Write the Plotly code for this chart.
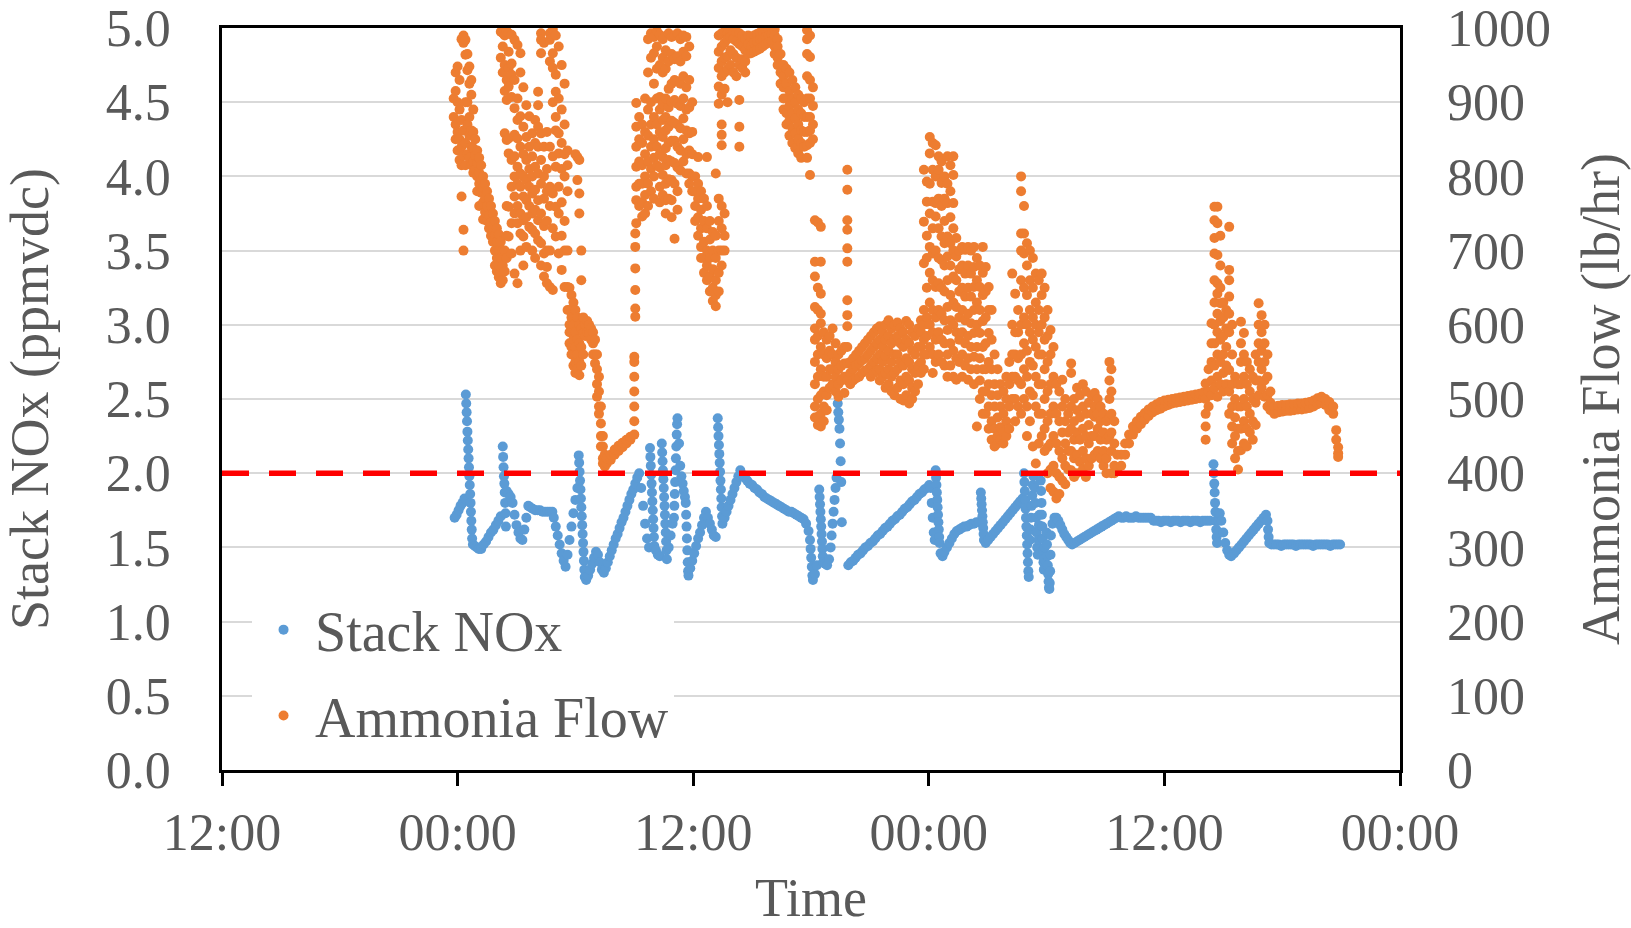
import pandas as pd
import plotly.graph_objects as go

# ---------------- data ----------------
BASE_TIME = pd.Timestamp("2021-06-01 12:00")   # left edge of the time axis (12:00)
AXIS_SPAN_HOURS = 60
x_tick_hours = [0, 12, 24, 36, 48, 60]
x_tick_labels = ["12:00", "00:00", "12:00", "00:00", "12:00", "00:00"]

nox_limit = 2.0   # ppmvdc permit limit (red dashed line)

# Stack NOx (ppmvdc): runs of readings (start hour after 12:00, sample step in hours, readings)
nox_runs = [
    (11.85, 0.1, [1.70, 1.72, 1.75, 1.78, 1.80, 1.83]),
    (12.42, 0.02, [2.53, 2.47, 2.41, 2.35, 2.28, 2.22, 2.16, 2.10, 2.04, 1.98, 1.92, 1.86, 1.80, 1.74, 1.68, 1.62, 1.56]),
    (12.78, 0.1, [1.52, 1.51, 1.50, 1.49]),
    (13.2, 0.125, [1.49, 1.52, 1.54, 1.57, 1.60, 1.62, 1.65, 1.68, 1.71]),
    (14.3, 0.02, [2.18, 2.11, 2.04, 1.98, 1.93, 1.87, 1.80, 1.73, 1.64]),
    (14.5, 0.1, [1.88, 1.86, 1.84, 1.80, 1.72, 1.65, 1.60, 1.56, 1.55]),
    (15.4, 0.1, [1.62, 1.70, 1.78]),
    (15.7, 0.125, [1.77, 1.76, 1.75, 1.75, 1.75, 1.74, 1.74, 1.74, 1.74, 1.74]),
    (16.9, 0.1, [1.70, 1.64, 1.58, 1.52, 1.46, 1.41, 1.37]),
    (17.6, 0.1, [1.45, 1.55, 1.64, 1.73, 1.82, 1.90]),
    (18.17, 0.022, [2.12, 2.07, 2.01, 1.95, 1.89, 1.83, 1.77, 1.71, 1.65, 1.59, 1.53, 1.47, 1.41, 1.35, 1.30]),
    (18.55, 0.1, [1.28, 1.31, 1.35, 1.39, 1.43, 1.47, 1.45, 1.40, 1.35, 1.33]),
    (19.55, 0.1, [1.36, 1.40, 1.44, 1.48, 1.52, 1.56, 1.59, 1.63, 1.67, 1.70, 1.74, 1.78, 1.82, 1.86, 1.89, 1.93, 1.97, 2.00]),
    (21.35, 0.1, [1.90, 1.78, 1.66, 1.56, 1.50]),
    (21.8, 0.02, [2.17, 2.11, 2.05, 1.99, 1.93, 1.87, 1.81, 1.75, 1.69, 1.63, 1.57, 1.51]),
    (22.1, 0.1, [1.48, 1.45, 1.44]),
    (22.4, 0.02, [2.20, 2.14, 2.08, 2.02, 1.96, 1.90, 1.84, 1.78, 1.72, 1.66, 1.60, 1.54, 1.48, 1.42]),
    (22.75, 0.1, [1.50, 1.58, 1.66]),
    (23.02, 0.02, [1.70, 1.78, 1.86, 1.94, 2.02, 2.10, 2.18, 2.26, 2.33, 2.37]),
    (23.28, 0.06, [2.20, 2.05, 1.98, 1.93, 1.88, 1.84]),
    (23.62, 0.02, [1.80, 1.72, 1.64, 1.56, 1.48, 1.40, 1.34, 1.31]),
    (23.85, 0.1, [1.36, 1.41, 1.46, 1.51, 1.56, 1.60, 1.65, 1.70, 1.74]),
    (24.75, 0.1, [1.70, 1.66, 1.62, 1.58, 1.57]),
    (25.25, 0.02, [2.37, 2.31, 2.25, 2.19, 2.13, 2.07, 2.01, 1.95, 1.89, 1.83, 1.77, 1.71, 1.66]),
    (25.6, 0.1, [1.70, 1.74, 1.78, 1.82, 1.86, 1.90, 1.94, 1.98, 2.02]),
    (26.5, 0.125, [1.99, 1.97, 1.95, 1.93, 1.92, 1.90, 1.89, 1.87, 1.86, 1.84, 1.83, 1.82, 1.81, 1.80,
                   1.79, 1.78, 1.77, 1.76, 1.75, 1.74, 1.74, 1.73, 1.72, 1.71, 1.70, 1.69, 1.66, 1.61]),
    (29.95, 0.03, [1.55, 1.49, 1.43, 1.37, 1.31, 1.28]),
    (30.2, 0.1, [1.32, 1.38]),
    (30.42, 0.02, [1.89, 1.84, 1.79, 1.74, 1.69, 1.64, 1.59, 1.54, 1.49, 1.44, 1.40]),
    (30.72, 0.1, [1.39, 1.38, 1.42]),
    (31.0, 0.05, [1.50, 1.58, 1.66, 1.74, 1.82, 1.90, 1.97]),
    (31.36, 0.03, [2.47, 2.41, 2.36, 2.30, 2.20, 2.08, 1.94, 1.67]),
    (31.9, 0.125, [1.38, 1.40, 1.41, 1.43, 1.45, 1.46, 1.48, 1.50, 1.51, 1.53, 1.54, 1.56, 1.58, 1.59, 1.61, 1.63, 1.64,
                   1.66, 1.68, 1.69, 1.71, 1.72, 1.74, 1.76, 1.77, 1.79, 1.81, 1.82, 1.84, 1.86, 1.87, 1.89, 1.90, 1.92]),
    (36.1, 0.05, [1.90, 1.80, 1.70, 1.60, 1.55]),
    (36.35, 0.02, [2.02, 1.97, 1.92, 1.87, 1.82, 1.77, 1.72, 1.67, 1.62, 1.57, 1.53]),
    (36.6, 0.1, [1.46, 1.44]),
    (36.8, 0.125, [1.47, 1.50, 1.53, 1.56, 1.59, 1.61, 1.62, 1.63, 1.64, 1.64, 1.65, 1.66, 1.66, 1.67, 1.67]),
    (38.65, 0.02, [1.87, 1.83, 1.79, 1.75, 1.71, 1.67, 1.63, 1.59, 1.55]),
    (38.9, 0.125, [1.53, 1.55, 1.57, 1.59, 1.61, 1.63, 1.65, 1.67, 1.69, 1.71, 1.73, 1.75, 1.77, 1.79, 1.81, 1.83]),
    (40.85, 0.02, [2.00, 1.94, 1.88, 1.82, 1.76, 1.70, 1.64, 1.58, 1.52, 1.46, 1.40, 1.34, 1.30]),
    (41.15, 0.03, [1.55, 1.62, 1.70, 1.78, 1.85, 1.92, 1.98]),
    (41.4, 0.03, [1.90, 1.80, 1.70, 1.60, 1.50, 1.45, 1.55, 1.65, 1.72]),
    (41.7, 0.02, [1.95, 1.88, 1.80, 1.72, 1.64, 1.56, 1.48, 1.40, 1.35, 1.42, 1.50]),
    (42.0, 0.02, [1.60, 1.52, 1.44, 1.38, 1.32, 1.27, 1.23, 1.22, 1.26, 1.34, 1.45, 1.58]),
    (42.3, 0.1, [1.66, 1.70, 1.70, 1.68, 1.65, 1.62, 1.59, 1.57, 1.55, 1.53, 1.52]),
    (43.425, 0.125, [1.53, 1.54, 1.55, 1.56, 1.57, 1.58, 1.59, 1.60, 1.61, 1.62, 1.63, 1.64, 1.65, 1.66, 1.67, 1.68,
                     1.69, 1.70, 1.71]),
    (45.8, 0.125, [1.70, 1.70, 1.71, 1.70, 1.70, 1.70, 1.71, 1.70, 1.70, 1.70, 1.70, 1.70, 1.70]),
    (47.45, 0.125, [1.68, 1.68, 1.68, 1.67, 1.68, 1.68, 1.68, 1.67, 1.68, 1.68, 1.68, 1.67, 1.68, 1.68, 1.68, 1.67,
                    1.68, 1.68, 1.68, 1.67, 1.68, 1.68, 1.68, 1.68]),
    (50.5, 0.02, [2.06, 2.00, 1.93, 1.87, 1.80, 1.74, 1.68, 1.62, 1.57, 1.53]),
    (50.72, 0.05, [1.60, 1.68, 1.73]),
    (50.9, 0.1, [1.68, 1.60, 1.53, 1.48, 1.45, 1.44]),
    (51.55, 0.125, [1.46, 1.48, 1.50, 1.52, 1.54, 1.56, 1.58, 1.60, 1.62, 1.64, 1.66, 1.68, 1.70, 1.72]),
    (53.25, 0.03, [1.68, 1.62, 1.57, 1.53]),
    (53.45, 0.125, [1.52, 1.52, 1.52, 1.52, 1.51, 1.52, 1.52, 1.52, 1.52, 1.52, 1.51, 1.52, 1.52, 1.52, 1.52,
                    1.52, 1.52, 1.51, 1.52, 1.52, 1.52, 1.52, 1.52, 1.52, 1.51, 1.52, 1.52, 1.52, 1.52]),
]

# Ammonia flow (lb/hr): readings grouped by the hour (after 12:00) at which they were logged
ammonia_readings = [
    (11.80, [905, 880]),
    (11.90, [940, 915, 870, 850]),
    (12.00, [948, 900, 860, 835]),
    (12.10, [930, 890, 850, 822]),
    (12.20, [985, 876, 840, 815, 773]),
    (12.30, [990, 980, 862, 828, 728, 700]),
    (12.40, [984, 964, 900, 845, 815]),
    (12.50, [965, 943, 900, 870, 830]),
    (12.60, [948, 925, 880, 855, 825]),
    (12.70, [930, 910, 862, 840, 815]),
    (12.80, [890, 860, 838, 820, 805]),
    (12.90, [850, 828, 810]),
    (13.00, [835, 818, 800, 780]),
    (13.10, [825, 805, 790, 760]),
    (13.20, [815, 795, 778]),
    (13.30, [800, 785, 765, 742]),
    (13.40, [790, 770, 752]),
    (13.50, [780, 760, 740]),
    (13.60, [770, 748, 730]),
    (13.70, [760, 738, 720]),
    (13.80, [750, 728, 712]),
    (13.90, [740, 720, 700, 680]),
    (14.00, [730, 712, 690, 672]),
    (14.10, [722, 700, 680, 664]),
    (14.20, [995, 960, 712, 690, 670, 656]),
    (14.30, [993, 975, 940, 700, 680, 660]),
    (14.40, [990, 950, 915, 858, 700, 672]),
    (14.50, [996, 930, 903, 849, 760, 720, 690]),
    (14.60, [993, 968, 946, 921, 851, 831, 759, 719]),
    (14.75, [991, 952, 937, 907, 822, 786, 737, 696]),
    (14.90, [984, 930, 892, 856, 827, 800, 773, 750, 669]),
    (15.05, [977, 905, 876, 851, 813, 790, 760, 737, 656]),
    (15.20, [966, 940, 881, 840, 804, 786, 750, 723, 700]),
    (15.35, [920, 867, 830, 800, 773, 741, 719, 680]),
    (15.50, [896, 853, 822, 795, 768, 745, 705]),
    (15.65, [881, 840, 810, 786, 760, 732]),
    (15.80, [858, 827, 800, 777, 750, 728, 700]),
    (15.95, [876, 845, 813, 782, 755, 723, 690]),
    (16.10, [914, 896, 867, 840, 804, 768, 741, 714]),
    (16.25, [993, 984, 966, 858, 822, 790, 750, 710, 680]),
    (16.40, [980, 840, 800, 770, 733, 696, 665]),
    (16.55, [860, 810, 780, 740, 700, 678, 656]),
    (16.70, [993, 984, 955, 840, 786, 760, 700, 651]),
    (16.85, [998, 966, 946, 900, 827, 777, 730, 647]),
    (17.00, [990, 937, 914, 880, 862, 813, 759, 719]),
    (17.15, [975, 905, 858, 831, 786, 750, 696]),
    (17.30, [950, 890, 845, 810, 765, 720, 674]),
    (17.45, [925, 870, 830, 800, 740, 700, 651]),
    (17.60, [835, 815, 780, 700, 651, 620]),
    (17.70, [650, 620, 600, 590, 575]),
    (17.80, [640, 610, 590, 570, 560]),
    (17.90, [630, 600, 580, 560, 545]),
    (18.00, [830, 620, 590, 570, 550, 535]),
    (18.10, [826, 795, 610, 580, 560, 540]),
    (18.20, [822, 777, 750, 600, 575, 550, 532]),
    (18.30, [700, 660, 595, 570, 545]),
    (18.40, [610, 589, 560]),
    (18.50, [600, 585]),
    (18.60, [605, 590]),
    (18.70, [600, 588]),
    (18.80, [595, 580]),
    (18.90, [590, 575, 560]),
    (19.00, [580, 560, 548]),
    (19.10, [560, 540, 520, 503]),
    (19.20, [530, 510, 490, 480]),
    (19.30, [490, 467, 450, 436]),
    (19.40, [450, 436, 420, 413]),
    (19.50, [425, 413, 409]),
    (19.60, [413, 420]),
    (19.80, [418, 425]),
    (20.00, [425, 432]),
    (20.20, [430, 437]),
    (20.40, [435, 441]),
    (20.60, [440, 445]),
    (20.80, [445, 449]),
    (21.00, [452, 470, 490, 510, 530, 550, 557]),
    (21.05, [611, 622, 647, 676, 705, 723]),
    (21.10, [737, 768, 786, 813, 840, 867, 899]),
    (21.25, [880, 850, 820, 790, 760]),
    (21.40, [870, 845, 815, 790, 765, 746]),
    (21.55, [905, 860, 830, 800, 775, 750]),
    (21.70, [985, 940, 890, 855, 820, 790, 760]),
    (21.85, [993, 960, 900, 870, 840, 810, 780]),
    (22.00, [988, 966, 925, 880, 850, 825, 800, 770]),
    (22.15, [996, 975, 945, 905, 870, 840, 815]),
    (22.30, [991, 950, 907, 890, 860, 830, 812, 786, 765]),
    (22.45, [985, 960, 940, 897, 876, 853, 826, 802, 775]),
    (22.60, [970, 945, 905, 880, 862, 838, 815, 790, 768, 750]),
    (22.75, [993, 955, 918, 893, 867, 845, 822, 796, 770]),
    (22.90, [988, 965, 925, 900, 875, 848, 820, 795, 768, 745]),
    (23.05, [990, 958, 930, 903, 872, 848, 818, 790, 716]),
    (23.20, [993, 962, 928, 898, 870, 840, 812, 780, 755]),
    (23.35, [985, 955, 925, 895, 865, 835, 808]),
    (23.50, [990, 968, 935, 905, 878, 850, 820]),
    (23.65, [988, 962, 920, 890, 862, 830, 804]),
    (23.80, [975, 930, 893, 858, 835, 804, 790]),
    (23.95, [900, 860, 830, 800, 780]),
    (24.10, [800, 780, 760, 740]),
    (24.25, [826, 790, 770, 745, 720]),
    (24.40, [780, 755, 730, 705, 690]),
    (24.55, [770, 740, 712, 690, 670]),
    (24.70, [826, 760, 730, 700, 680, 660]),
    (24.85, [740, 715, 690, 665, 645]),
    (25.00, [725, 700, 675, 650, 632]),
    (25.15, [804, 720, 690, 660, 640, 625]),
    (25.30, [990, 968, 946, 921, 898, 770, 740, 700, 670, 645]),
    (25.45, [993, 975, 955, 935, 910, 870, 856, 842, 760, 730, 700, 680]),
    (25.60, [995, 980, 960, 940, 918, 750, 720, 700]),
    (25.75, [993, 985, 962, 945, 900]),
    (25.90, [996, 988, 970, 950]),
    (26.05, [994, 985, 965, 940]),
    (26.20, [995, 982, 960, 935]),
    (26.35, [993, 978, 950, 903, 867, 840]),
    (26.50, [990, 975, 958, 946]),
    (26.65, [985, 970, 955, 940]),
    (26.80, [990, 978, 965]),
    (26.95, [988, 975, 966]),
    (27.10, [990, 980, 968]),
    (27.25, [992, 982, 970]),
    (27.40, [994, 984, 972]),
    (27.55, [995, 985, 975]),
    (27.70, [996, 988, 978]),
    (27.85, [998, 990, 980]),
    (28.00, [1000, 992, 982]),
    (28.15, [998, 990, 975, 965]),
    (28.30, [985, 975, 960, 950]),
    (28.45, [965, 950, 940, 925]),
    (28.60, [950, 935, 920, 905, 890]),
    (28.75, [945, 925, 905, 885, 870]),
    (28.90, [940, 915, 895, 875, 855]),
    (29.05, [930, 905, 885, 865, 845]),
    (29.20, [920, 900, 878, 858, 838]),
    (29.35, [910, 890, 870, 850, 831]),
    (29.50, [905, 885, 862, 845, 825]),
    (29.65, [900, 880, 860, 840]),
    (29.80, [997, 985, 965, 935, 905, 880, 860, 842, 825]),
    (29.95, [990, 961, 930, 905, 880, 862, 845, 802]),
    (30.10, [920, 895, 870, 850]),
    (30.20, [741, 685, 665, 624, 595, 580, 550, 520, 490, 475]),
    (30.35, [738, 650, 620, 585, 560, 530, 500, 476, 465]),
    (30.50, [732, 685, 642, 615, 602, 570, 540, 505, 480, 463]),
    (30.65, [590, 560, 530, 510, 490, 470]),
    (30.80, [580, 555, 530, 505, 485]),
    (30.95, [585, 565, 540, 515]),
    (31.10, [595, 560, 540, 520]),
    (31.25, [575, 550, 530, 510]),
    (31.40, [560, 540, 520, 503]),
    (31.55, [565, 545, 525]),
    (31.70, [570, 548, 530, 508]),
    (31.85, [809, 782, 741, 728, 703, 685, 633, 613, 598, 570, 548, 525]),
    (32.00, [550, 535, 520]),
    (32.15, [555, 540, 525]),
    (32.30, [560, 545, 528]),
    (32.45, [565, 548, 530]),
    (32.60, [570, 552, 535]),
    (32.75, [575, 555, 538]),
    (32.90, [580, 560, 540]),
    (33.05, [585, 565, 545, 530]),
    (33.20, [590, 570, 550, 535]),
    (33.35, [595, 575, 555, 538]),
    (33.50, [598, 580, 560, 540, 525]),
    (33.65, [590, 570, 550, 530]),
    (33.80, [600, 580, 558, 535, 515]),
    (33.95, [606, 585, 565, 540, 520]),
    (34.10, [595, 575, 550, 530, 510]),
    (34.25, [600, 580, 560, 535, 505]),
    (34.40, [603, 585, 560, 540, 515]),
    (34.55, [595, 575, 550, 525, 500]),
    (34.70, [590, 570, 545, 520, 498]),
    (34.85, [605, 580, 555, 530, 505]),
    (35.00, [600, 575, 550, 525, 494]),
    (35.15, [590, 565, 540, 515, 500]),
    (35.30, [585, 560, 535, 510]),
    (35.45, [595, 570, 545, 520]),
    (35.60, [606, 590, 570, 550, 535]),
    (35.75, [809, 739, 683, 620, 600, 580, 560, 540]),
    (35.90, [793, 766, 720, 690, 650, 610, 585, 560]),
    (36.05, [853, 831, 790, 750, 705, 670, 630, 600, 570]),
    (36.20, [845, 809, 766, 730, 696, 660, 620, 590, 560, 535]),
    (36.35, [842, 800, 764, 746, 700, 651, 610, 580, 550]),
    (36.50, [827, 809, 770, 730, 690, 656, 620, 590, 560]),
    (36.65, [820, 791, 760, 719, 687, 650, 615, 580, 550]),
    (36.80, [800, 770, 740, 710, 680, 645, 606, 575, 545]),
    (36.95, [827, 790, 764, 719, 692, 660, 624, 593, 560, 530]),
    (37.10, [815, 780, 745, 710, 680, 640, 606, 575, 545]),
    (37.25, [827, 802, 764, 730, 700, 665, 630, 600, 565, 530]),
    (37.40, [717, 692, 660, 624, 590, 555, 526]),
    (37.55, [700, 675, 645, 610, 580, 550]),
    (37.70, [705, 680, 650, 620, 590, 560, 530]),
    (37.85, [701, 669, 638, 606, 575, 545]),
    (38.00, [705, 680, 650, 615, 585, 555, 526]),
    (38.15, [700, 669, 638, 602, 570, 540]),
    (38.30, [705, 678, 651, 620, 589, 557, 520]),
    (38.45, [690, 660, 630, 600, 570, 540, 463]),
    (38.60, [680, 651, 620, 589, 555, 525, 500]),
    (38.75, [705, 670, 640, 605, 570, 540, 510, 480]),
    (38.90, [678, 645, 610, 575, 540, 510, 480]),
    (39.05, [651, 620, 589, 550, 520, 490, 460]),
    (39.20, [620, 580, 540, 505, 470, 445]),
    (39.35, [560, 520, 490, 460, 436]),
    (39.50, [540, 505, 475, 450, 440]),
    (39.65, [520, 490, 462, 445]),
    (39.80, [510, 480, 455, 440]),
    (39.95, [530, 500, 470, 450]),
    (40.10, [550, 520, 490, 460]),
    (40.25, [669, 600, 560, 530, 500]),
    (40.40, [642, 590, 560, 530, 500, 470]),
    (40.55, [620, 590, 555, 525, 490]),
    (40.70, [800, 780, 723, 700, 660, 600, 560, 520, 480]),
    (40.85, [760, 723, 696, 650, 610, 575, 540, 500]),
    (41.00, [710, 680, 640, 600, 565, 530, 490, 450]),
    (41.15, [700, 660, 620, 590, 550, 510, 470]),
    (41.30, [690, 650, 610, 580, 545, 505, 436]),
    (41.45, [669, 630, 600, 570, 530, 490, 413]),
    (41.60, [660, 620, 590, 560, 520, 480, 440]),
    (41.75, [669, 640, 600, 560, 520, 480, 450]),
    (41.90, [650, 610, 580, 540, 500, 460, 430]),
    (42.05, [620, 585, 550, 510, 470, 435, 400]),
    (42.20, [593, 560, 520, 480, 440, 405, 380]),
    (42.35, [570, 530, 490, 450, 410, 375]),
    (42.50, [520, 480, 440, 400, 366]),
    (42.65, [510, 470, 430, 395, 372]),
    (42.80, [526, 490, 455, 420, 390]),
    (42.95, [500, 470, 440, 410, 385]),
    (43.10, [480, 455, 430, 405]),
    (43.25, [548, 535, 490, 460, 430, 404]),
    (43.40, [500, 470, 445, 420, 395]),
    (43.55, [515, 485, 455, 425, 400]),
    (43.70, [505, 475, 445, 415]),
    (43.85, [520, 490, 460, 430, 405]),
    (44.00, [510, 480, 450, 420, 395]),
    (44.15, [495, 465, 440, 410]),
    (44.30, [505, 480, 450, 420]),
    (44.45, [508, 490, 476, 450, 425]),
    (44.60, [500, 480, 460, 430]),
    (44.75, [490, 470, 445, 420]),
    (44.90, [480, 455, 430, 410]),
    (45.05, [470, 445, 420, 400]),
    (45.20, [550, 525, 500, 475, 450]),
    (45.30, [540, 510, 480, 455, 430, 400]),
    (45.45, [470, 440, 410, 400]),
    (45.60, [425, 405]),
    (45.80, [410, 425]),
    (46.00, [425, 440]),
    (46.20, [440, 452]),
    (46.40, [452, 463]),
    (46.60, [460, 470]),
    (46.80, [466, 476]),
    (47.00, [472, 481]),
    (47.20, [477, 486]),
    (47.40, [482, 490]),
    (47.60, [485, 493]),
    (47.80, [487, 496]),
    (48.00, [490, 498]),
    (48.20, [492, 499]),
    (48.40, [494, 500]),
    (48.60, [495, 501]),
    (48.80, [496, 502]),
    (49.00, [497, 503]),
    (49.20, [498, 504]),
    (49.40, [499, 505]),
    (49.60, [500, 506]),
    (49.80, [501, 507]),
    (50.00, [503, 509]),
    (50.10, [500, 521, 480, 463, 445]),
    (50.25, [540, 510, 490]),
    (50.40, [602, 575, 550, 525, 505]),
    (50.55, [759, 741, 717, 696, 660, 630, 600, 575, 545, 515]),
    (50.70, [759, 737, 694, 656, 642, 615, 590, 560, 530, 503]),
    (50.85, [720, 680, 650, 629, 605, 580, 550, 520]),
    (51.00, [630, 610, 585, 560, 535, 510]),
    (51.15, [620, 595, 570, 545, 520]),
    (51.30, [732, 674, 660, 638, 615, 590, 539, 510, 480]),
    (51.45, [600, 560, 520, 490, 463, 440]),
    (51.60, [530, 500, 475, 450, 420]),
    (51.75, [520, 490, 460, 430, 405]),
    (51.90, [604, 575, 550, 520, 490, 460, 431]),
    (52.05, [589, 560, 530, 500, 470, 440]),
    (52.20, [550, 520, 490, 460, 436]),
    (52.35, [540, 510, 480, 455]),
    (52.50, [530, 500, 470, 445]),
    (52.65, [560, 525, 495, 465]),
    (52.80, [629, 600, 575, 550, 525, 505]),
    (52.95, [613, 590, 565, 540, 515]),
    (53.10, [600, 575, 550, 525, 503]),
    (53.25, [560, 530, 505, 490]),
    (53.40, [510, 495, 485]),
    (53.60, [480, 490]),
    (53.80, [482, 491]),
    (54.00, [483, 492]),
    (54.20, [484, 492]),
    (54.40, [484, 493]),
    (54.60, [485, 493]),
    (54.80, [486, 494]),
    (55.00, [486, 494]),
    (55.20, [487, 495]),
    (55.40, [488, 496]),
    (55.60, [490, 498]),
    (55.80, [493, 501]),
    (56.00, [495, 503]),
    (56.20, [492, 500]),
    (56.40, [485, 496]),
    (56.60, [480, 490]),
    (56.75, [458, 445]),
    (56.85, [427, 422, 435]),
]

# ---------------- styling ----------------
FONT = "Liberation Serif"
TEXT_GREY = "#595959"
NOX_BLUE = "#5B9BD5"
NH3_ORANGE = "#ED7D31"
MARKER_SIZE = 10

def to_time(hours):
    return BASE_TIME + pd.to_timedelta(hours, unit="h")

nox_hours, nox_values = [], []
for start, step, vals in nox_runs:
    for i, v in enumerate(vals):
        nox_hours.append(start + i * step)
        nox_values.append(v)

nh3_hours, nh3_values = [], []
for h, vals in ammonia_readings:
    for v in vals:
        nh3_hours.append(h)
        nh3_values.append(v)

fig = go.Figure()
fig.add_trace(go.Scatter(
    x=to_time(nox_hours), y=nox_values, mode="markers", name="Stack NOx",
    marker=dict(color=NOX_BLUE, size=MARKER_SIZE), yaxis="y", legendgroup="nox",
))
fig.add_trace(go.Scatter(
    x=to_time(nh3_hours), y=nh3_values, mode="markers", name="Ammonia Flow",
    marker=dict(color=NH3_ORANGE, size=MARKER_SIZE), yaxis="y2", legendgroup="nh3",
))

axis_start = to_time(0)
axis_end = to_time(AXIS_SPAN_HOURS)

fig.add_shape(type="line", xref="x", yref="y", x0=axis_start, x1=axis_end,
              y0=nox_limit, y1=nox_limit, layer="above",
              line=dict(color="#FF0000", width=5.5, dash="27px,20px"))

tick_font = dict(family=FONT, size=52, color=TEXT_GREY)
title_font = dict(family=FONT, size=54, color=TEXT_GREY)

fig.update_layout(
    width=1631, height=928,
    margin=dict(l=222, r=231, t=28, b=158, autoexpand=False),
    paper_bgcolor="white", plot_bgcolor="white",
    showlegend=True,
    legend=dict(
        x=0.0255, y=0.247, xanchor="left", yanchor="top",
        bgcolor="white", borderwidth=0,
        font=dict(family=FONT, size=56, color=TEXT_GREY),
        tracegroupgap=10, itemwidth=53,
    ),
    xaxis=dict(
        type="date", range=[axis_start, axis_end], automargin=False,
        tickvals=[to_time(h) for h in x_tick_hours], ticktext=x_tick_labels,
        ticks="outside", ticklen=13, tickwidth=2.5, tickcolor="black",
        showline=True, linecolor="black", linewidth=2.5, mirror=True,
        showgrid=False, zeroline=False,
        tickfont=tick_font, ticklabelstandoff=2,
        title=dict(text="Time", font=title_font, standoff=40),
    ),
    yaxis=dict(
        range=[0, 5], dtick=0.5, tick0=0, tickformat=".1f", automargin=False,
        showgrid=True, gridcolor="#D9D9D9", gridwidth=2,
        showline=True, linecolor="black", linewidth=2.5, mirror=True,
        ticks="", zeroline=False,
        tickfont=tick_font, ticklabelstandoff=38,
        title=dict(text="Stack NOx (ppmvdc)", font=title_font, standoff=42),
    ),
    yaxis2=dict(
        overlaying="y", side="right", automargin=False,
        range=[0, 1000], dtick=100, tick0=0,
        showgrid=False, showline=False, ticks="", zeroline=False,
        tickfont=tick_font, ticklabelstandoff=46,
        title=dict(text="Ammonia Flow (lb/hr)", font=title_font, standoff=35),
    ),
)

fig.write_html("out.html")
